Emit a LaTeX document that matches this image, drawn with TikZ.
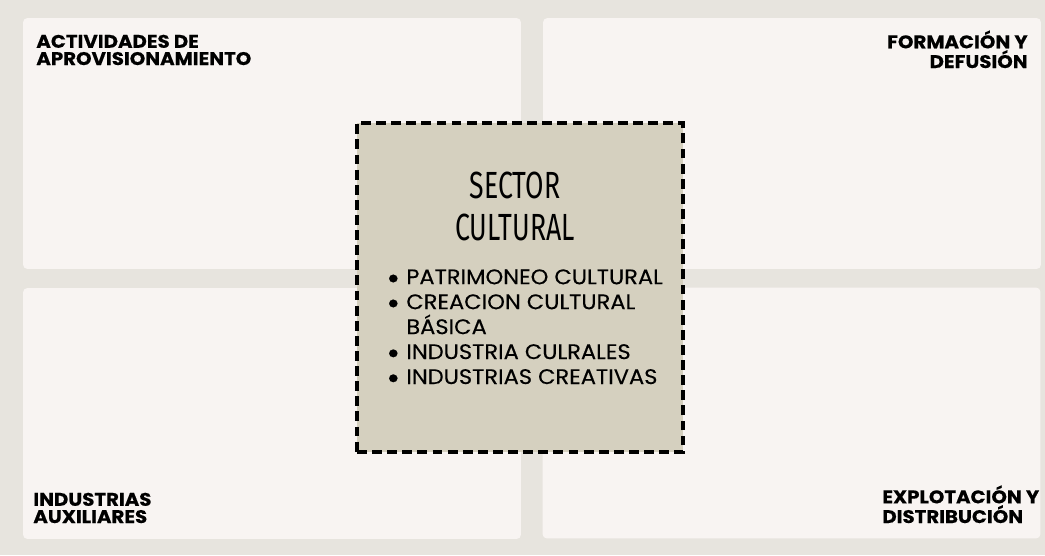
\documentclass[tikz,border=0pt]{standalone}
\usepackage{fontspec}
\setmainfont{Poppins}
\newfontfamily\titlefont{Fira Sans}
\usetikzlibrary{positioning}
\definecolor{canvas colour}{HTML}{E7E4DE}
\definecolor{panel colour}{HTML}{F8F4F2}
\definecolor{sector colour}{HTML}{D5D0BF}
\tikzset{
    % Define a set of styles
    % First some fills
    canvas fill/.style={fill=canvas colour},
    panel fill/.style={fill=panel colour},
    sector fill/.style={fill=sector colour},
%
    % The four quadrants and their headings
    panel/.style={panel fill, rounded corners=2.5pt, inner sep=0,
        minimum width=9.96cm, minimum height=5.02cm},
    heading/.style={font=\bfseries\fontsize{10.4}{9.8}\selectfont
        \addfontfeature{FakeStretch=1.08,FakeBold=0.4}, inner sep=0},
%
    % Dashed box in the middle
    sector/.style={sector fill, draw=black, line width=2.2pt,
        dash pattern=on 5.6pt off 3pt, minimum width=6.52cm,
        minimum height=6.58cm, inner sep=0},
}
\newcommand{\bitem}[1]{\makebox[0.4cm][l]{%
    \smash{\raisebox{-0.42ex}{\scalebox{1.5}{\textbullet}}}}#1}

\begin{document}
\begin{tikzpicture}[x=0.02cm, y=-0.02cm]

% This path defines the extent of the diagram
\path [canvas fill] (0,0) rectangle (1045,555);

% Quadrants
\node [panel] (supply) at (272,143.5) {};
\node [panel] (training) at (792,143.5) {};
\node [panel] (auxiliary) at (272,413.5) {};
\node [panel] (distribution) at (791.5,413) {};

% Headings (base is the last line)
\node [heading, anchor=base west, align=left] (supply label) at (36,65)
    {ACTIVIDADES DE\\APROVISIONAMIENTO};
\node [heading, anchor=base east, align=right] (training label) at (1028,68)
    {FORMACIÓN Y\\DEFUSIÓN};
\node [heading, anchor=base west, align=left] (auxiliary label) at (33,523)
    {INDUSTRIAS\\AUXILIARES};
\node [heading, anchor=base west, align=left] (distribution label) at (882,523)
    {EXPLOTACIÓN Y\\DISTRIBUCIÓN};

% Cultural sector
\node [sector] (sector) at (520,287.5) {};
\node [font=\titlefont\fontsize{20.5}{23.8}\selectfont, align=center,
    inner sep=0, anchor=base] (sector title) at (515,240)
    {\scalebox{0.74}[1.05]{SECTOR}\\\scalebox{0.74}[1.05]{CULTURAL}};
\node [font=\fontsize{12}{14.2}\selectfont
    \addfontfeature{FakeStretch=1.07,FakeBold=0.3},
    align=left, inner sep=0, anchor=base west] (sector list) at (386,384)
    {\bitem{PATRIMONEO CULTURAL}\\
     \bitem{CREACION CULTURAL}\\
     \hspace*{0.4cm}BÁSICA\\
     \bitem{INDUSTRIA CULRALES}\\
     \bitem{INDUSTRIAS CREATIVAS}};

\end{tikzpicture}
\end{document}
